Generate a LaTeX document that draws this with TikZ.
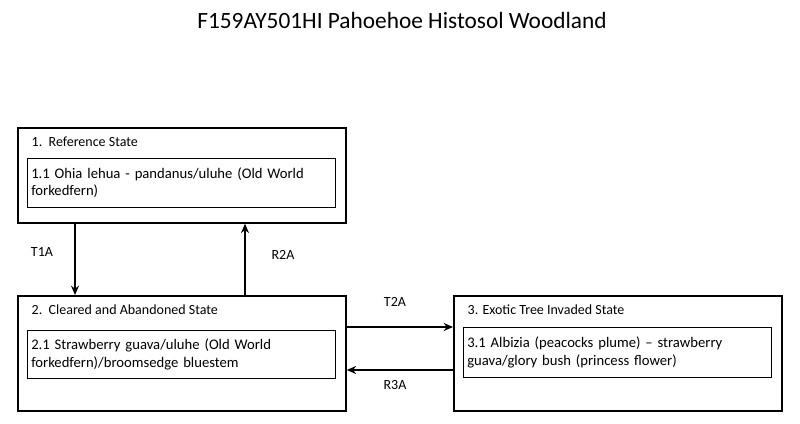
\documentclass[tikz,border=0pt]{standalone}
\usepackage{fontspec}
\setmainfont{Carlito}
\usetikzlibrary{positioning,arrows.meta}
\tikzset{
  outer/.style={draw, line width=1.3pt, minimum width=246pt, anchor=north west, inner sep=0pt},
  inner/.style={draw, anchor=north west, text width=225pt, inner sep=3pt, font=\fontsize{11}{13}\selectfont,
    execute at begin node={\raggedright\hyphenpenalty=10000\exhyphenpenalty=10000}},
  lbl/.style={font=\fontsize{10.5}{12}\selectfont},
  arr/.style={-{Stealth[length=7pt,width=6pt]}, line width=1.3pt}
}
\begin{document}
\begin{tikzpicture}[x=0.75pt, y=-0.75pt]
  \useasboundingbox (0,0) rectangle (800,424);
  \node[font=\fontsize{17.5}{20}\selectfont] (title) at (402,20) {F159AY501HI Pahoehoe Histosol Woodland};
  % states
  \node[outer, minimum height=71.25pt] (s1) at (17,127) {};
  \node[outer, minimum height=86.25pt] (s2) at (17,295) {};
  \node[outer, minimum height=86.25pt] (s3) at (453,295) {};
  \node[lbl, anchor=west] at (27,142) {1.\ \ Reference State};
  \node[lbl, anchor=west] at (27,310) {2.\ \ Cleared and Abandoned State};
  \node[lbl, anchor=west] at (463,310) {3. Exotic Tree Invaded State};
  % communities
  \node[inner, minimum height=36.75pt] (c1) at (27,158) {1.1 Ohia lehua - pandanus/uluhe (Old World forkedfern)};
  \node[inner, minimum height=36pt] (c2) at (27,330) {2.1 Strawberry guava/uluhe (Old World forkedfern)/broomsedge bluestem};
  \node[inner, minimum height=37.5pt] (c3) at (463,327) {3.1 Albizia (peacocks plume) -- strawberry guava/glory bush (princess flower)};
  % transitions
  \draw[arr] (s1.south -| 75,0) -- (s2.north -| 75,0);
  \draw[arr] (s2.north -| 245,0) -- (s1.south -| 245,0);
  \draw[arr] (s2.east |- 0,327) -- (s3.west |- 0,327);
  \draw[arr] (s3.west |- 0,370) -- (s2.east |- 0,370);
  \node[lbl] (t1a) at (42,252) {T1A};
  \node[lbl] (r2a) at (283,255) {R2A};
  \node[lbl] (t2a) at (395,302) {T2A};
  \node[lbl] (r3a) at (395,385) {R3A};
\end{tikzpicture}
\end{document}
